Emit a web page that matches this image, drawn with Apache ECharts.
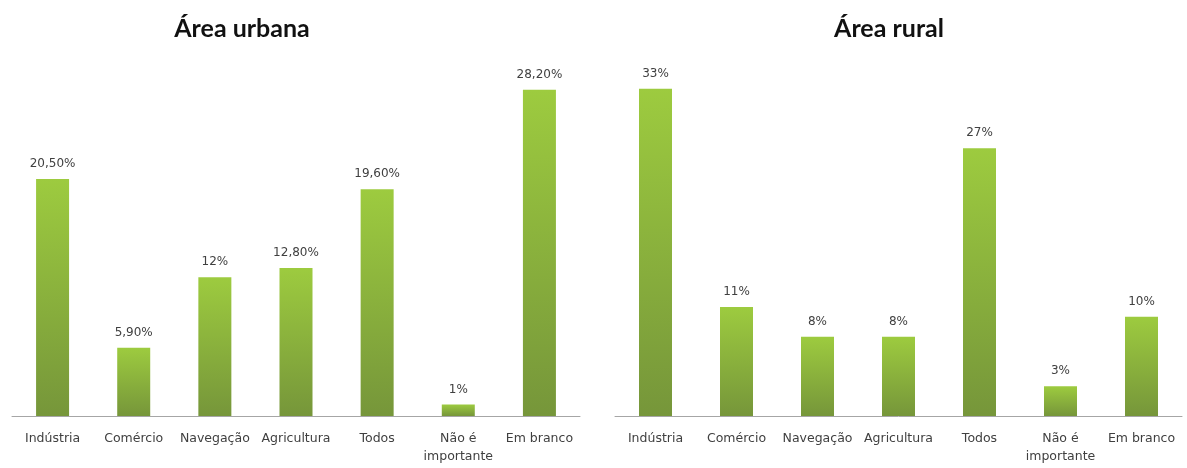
<!DOCTYPE html>
<html>
<head>
<meta charset="utf-8">
<script src="https://cdn.jsdelivr.net/npm/echarts@6/dist/echarts.min.js"></script>
<style>
  html, body { margin: 0; padding: 0; background: #ffffff; }
  #chart { width: 1187px; height: 468px; }
</style>
</head>
<body>
<div id="chart"></div>
<script>
const categories = ['Indústria', 'Comércio', 'Navegação', 'Agricultura', 'Todos', 'Não é\nimportante', 'Em branco'];
const urbanValues = [20.5, 5.9, 12, 12.8, 19.6, 1, 28.2];
const ruralValues = [33, 11, 8, 8, 27, 3, 10];
const urbanTitle = 'Área urbana';
const ruralTitle = 'Área rural';

function fmt(v) {
  if (Number.isInteger(v)) return v + '%';
  return v.toFixed(2).replace('.', ',') + '%';
}

const barColor = new echarts.graphic.LinearGradient(0, 0, 0, 1, [
  { offset: 0, color: '#9dcb3f' },
  { offset: 1, color: '#76963a' }
]);

const titleFont = 'Lato, "Open Sans", sans-serif';
const textFont = '"DejaVu Sans", "Noto Sans", sans-serif';

const chart = echarts.init(document.getElementById('chart'), null, { renderer: 'canvas' });
chart.setOption({
  backgroundColor: '#ffffff',
  animation: false,
  title: [
    { text: urbanTitle, left: 237, top: 11, textAlign: 'center',
      textStyle: { fontFamily: titleFont, fontWeight: 'bold', fontSize: 25, color: '#111' } },
    { text: ruralTitle, left: 884, top: 11, textAlign: 'center',
      textStyle: { fontFamily: titleFont, fontWeight: 'bold', fontSize: 25, color: '#111' } }
  ],
  grid: [
    { left: 12, width: 568, top: 69, bottom: 52 },
    { left: 615, width: 567, top: 69, bottom: 52 }
  ],
  xAxis: [0, 1].map(i => ({
    type: 'category', gridIndex: i, data: categories,
    axisTick: { show: false },
    axisLine: { lineStyle: { color: '#a6a6a6', width: 1 } },
    axisLabel: { interval: 0, margin: 14, fontFamily: textFont, fontSize: 12.5, color: '#404040', lineHeight: 18 }
  })),
  yAxis: [
    { type: 'value', gridIndex: 0, min: 0, max: 30, show: false, splitLine: { show: false } },
    { type: 'value', gridIndex: 1, min: 0, max: 35, show: false, splitLine: { show: false } }
  ],
  series: [
    { type: 'bar', xAxisIndex: 0, yAxisIndex: 0, data: urbanValues, barWidth: 33,
      itemStyle: { color: barColor },
      label: { show: true, position: 'top', distance: 9, formatter: p => fmt(p.value),
        fontFamily: textFont, fontSize: 12, color: '#404040' } },
    { type: 'bar', xAxisIndex: 1, yAxisIndex: 1, data: ruralValues, barWidth: 33,
      itemStyle: { color: barColor },
      label: { show: true, position: 'top', distance: 9, formatter: p => fmt(p.value),
        fontFamily: textFont, fontSize: 12, color: '#404040' } }
  ]
});
</script>
</body>
</html>
